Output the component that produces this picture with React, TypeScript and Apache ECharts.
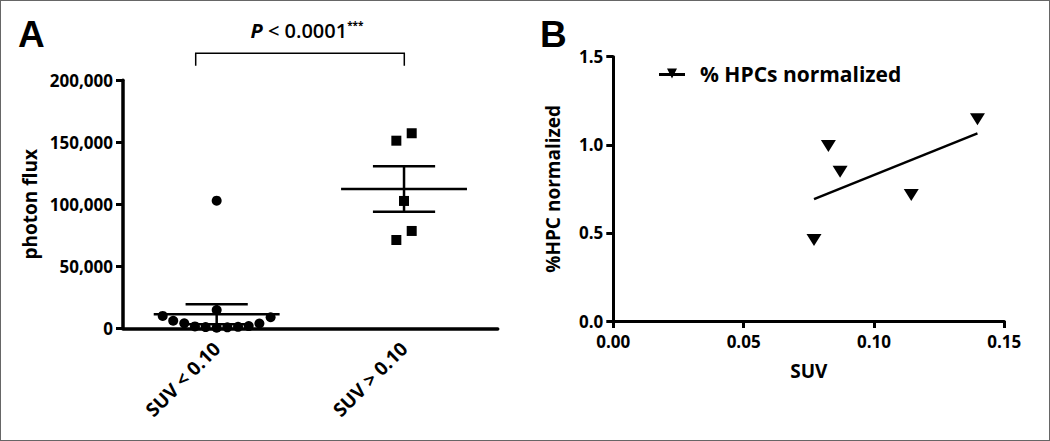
import React, { useEffect, useRef } from "react";
import * as echarts from "echarts";

// ---- Panel A data ----
const categoriesA = ["SUV < 0.10", "SUV > 0.10"];
// x positions on a 0..2 value scale (category centres at 0.5 and 1.5, spread like a beeswarm)
const lowSuvX = [0.212, 0.268, 0.327, 0.384, 0.441, 0.5, 0.557, 0.614, 0.671, 0.728, 0.788, 0.5, 0.5];
const lowSuvFlux = [10000, 6100, 4000, 1500, 1000, 500, 800, 1200, 1800, 3900, 8900, 14750, 102900];
const highSuvX = [1.459, 1.541, 1.5, 1.541, 1.459];
const highSuvFlux = [151300, 157300, 102700, 78500, 71200];
const groupCentres = [0.5, 1.5];
const groupMeans = [11300, 112300];
const groupSems = [8000, 18300];

// ---- Panel B data ----
const suvB = [0.077, 0.0825, 0.087, 0.1143, 0.1397];
const hpcB = [0.46, 0.993, 0.847, 0.715, 1.145];
const fitSuv = [0.077, 0.1397];
const fitHpc = [0.692, 1.065];

const FONT = "'Open Sans', 'Liberation Sans', Arial, sans-serif";

export default function App() {
  const ref = useRef<HTMLDivElement>(null);

  useEffect(() => {
    if (!ref.current) return;
    const chart = echarts.init(ref.current, undefined, { renderer: "svg" });

    const axisLabelStyle = { color: "#000", fontSize: 17, fontWeight: "bold" as const, fontFamily: FONT };
    const nameStyle = { fontSize: 19, fontWeight: "bold" as const, color: "#000", fontFamily: FONT };

    const option: any = {
      animation: false,
      backgroundColor: "#fff",
      textStyle: { fontFamily: FONT, color: "#000" },
      grid: [
        { left: 123, top: 80.3, width: 374.7, height: 248 },
        { left: 613.3, top: 56.7, width: 391, height: 264.3 },
      ],
      legend: {
        show: true,
        left: 659,
        top: 63,
        padding: 0,
        itemWidth: 26,
        itemHeight: 12,
        data: [
          {
            name: "% HPCs normalized",
            icon: "path://M0,4.5L26,4.5L26,7.5L0,7.5Z M8,0L18,0L13,10Z",
          },
        ],
        textStyle: { fontSize: 21, fontWeight: "bold", color: "#000", fontFamily: FONT, padding: [0, 0, 0, 10] },
      },
      xAxis: [
        {
          type: "category",
          gridIndex: 0,
          data: categoriesA,
          boundaryGap: true,
          axisLine: { lineStyle: { color: "#000", width: 3.5 } },
          axisTick: { alignWithLabel: true, length: 7, lineStyle: { color: "#000", width: 3 } },
          axisLabel: { ...axisLabelStyle, fontSize: 19, rotate: 45, margin: 17 },
          splitLine: { show: false },
        },
        {
          type: "value",
          gridIndex: 0,
          min: 0,
          max: 2,
          show: false,
        },
        {
          type: "value",
          gridIndex: 1,
          min: 0,
          max: 0.15,
          interval: 0.05,
          name: "SUV",
          nameLocation: "middle",
          nameGap: 40,
          nameTextStyle: nameStyle,
          axisLine: { lineStyle: { color: "#000", width: 3 } },
          axisTick: { length: 7, lineStyle: { color: "#000", width: 3 } },
          axisLabel: { ...axisLabelStyle, margin: 12, formatter: (v: number) => v.toFixed(2) },
          splitLine: { show: false },
        },
      ],
      yAxis: [
        {
          type: "value",
          gridIndex: 0,
          min: 0,
          max: 200000,
          interval: 50000,
          name: "photon flux",
          nameLocation: "middle",
          nameGap: 84,
          nameTextStyle: nameStyle,
          axisLine: { show: true, lineStyle: { color: "#000", width: 3.5 } },
          axisTick: { show: true, length: 7, lineStyle: { color: "#000", width: 3 } },
          axisLabel: { ...axisLabelStyle, margin: 10, formatter: (v: number) => v.toLocaleString("en-US") },
          splitLine: { show: false },
        },
        {
          type: "value",
          gridIndex: 1,
          min: 0,
          max: 1.5,
          interval: 0.5,
          name: "%HPC normalized",
          nameLocation: "middle",
          nameGap: 51,
          nameTextStyle: nameStyle,
          axisLine: { show: true, lineStyle: { color: "#000", width: 3 } },
          axisTick: { show: true, length: 7, lineStyle: { color: "#000", width: 3 } },
          axisLabel: { ...axisLabelStyle, margin: 10, formatter: (v: number) => v.toFixed(1) },
          splitLine: { show: false },
        },
      ],
      series: [
        {
          name: "mean ± SEM",
          type: "custom",
          xAxisIndex: 1,
          yAxisIndex: 0,
          z: 1,
          data: groupCentres.map((c, i) => [c, groupMeans[i], groupSems[i]]),
          renderItem: (params: any, api: any) => {
            const x = api.value(0);
            const m = api.value(1);
            const s = api.value(2);
            const c = api.coord([x, m]);
            const t = api.coord([x, m + s]);
            const b = api.coord([x, m - s]);
            const unit = api.size([1, 0])[0];
            const mh = 0.336 * unit;
            const ch = 0.166 * unit;
            const st = { stroke: "#000", lineWidth: 2.5 };
            return {
              type: "group",
              children: [
                { type: "line", shape: { x1: c[0] - mh, y1: c[1], x2: c[0] + mh, y2: c[1] }, style: st },
                { type: "line", shape: { x1: t[0], y1: t[1], x2: b[0], y2: b[1] }, style: st },
                { type: "line", shape: { x1: t[0] - ch, y1: t[1], x2: t[0] + ch, y2: t[1] }, style: st },
                { type: "line", shape: { x1: b[0] - ch, y1: b[1], x2: b[0] + ch, y2: b[1] }, style: st },
              ],
            };
          },
        },
        {
          name: "SUV < 0.10",
          type: "scatter",
          xAxisIndex: 1,
          yAxisIndex: 0,
          z: 3,
          symbol: "circle",
          symbolSize: 10,
          itemStyle: { color: "#000", opacity: 1 },
          data: lowSuvX.map((x, i) => [x, lowSuvFlux[i]]),
        },
        {
          name: "SUV > 0.10",
          type: "scatter",
          xAxisIndex: 1,
          yAxisIndex: 0,
          z: 3,
          symbol: "rect",
          symbolSize: 10,
          itemStyle: { color: "#000", opacity: 1 },
          data: highSuvX.map((x, i) => [x, highSuvFlux[i]]),
        },
        {
          name: "% HPCs normalized",
          type: "scatter",
          xAxisIndex: 2,
          yAxisIndex: 1,
          symbol: "triangle",
          symbolRotate: 180,
          symbolSize: [15, 12],
          itemStyle: { color: "#000", opacity: 1 },
          data: suvB.map((x, i) => [x, hpcB[i]]),
        },
        {
          name: "linear fit",
          type: "line",
          xAxisIndex: 2,
          yAxisIndex: 1,
          showSymbol: false,
          symbol: "none",
          lineStyle: { color: "#000", width: 2.5 },
          data: fitSuv.map((x, i) => [x, fitHpc[i]]),
        },
      ],
      graphic: [
        {
          type: "rect",
          shape: { x: 0, y: 0, width: 1050, height: 441 },
          style: { fill: "none", stroke: "#666", lineWidth: 2 },
          silent: true,
        },
        {
          type: "text",
          x: 18,
          y: 34,
          style: { text: "A", fontSize: 37, fontWeight: "bold", fontFamily: "'Liberation Sans', Arial, sans-serif", fill: "#000", verticalAlign: "middle" },
        },
        {
          type: "text",
          x: 540,
          y: 34,
          style: { text: "B", fontSize: 37, fontWeight: "bold", fontFamily: "'Liberation Sans', Arial, sans-serif", fill: "#000", verticalAlign: "middle" },
        },
        {
          type: "polyline",
          shape: { points: [[195.7, 65.7], [195.7, 53.3], [404.3, 53.3], [404.3, 65.7]] },
          style: { stroke: "#000", lineWidth: 1.5, fill: "none" },
        },
        {
          type: "text",
          x: 307,
          y: 30,
          style: {
            text: "{p|P} < 0.0001{s|***}",
            align: "center",
            verticalAlign: "middle",
            fontSize: 20,
            fontWeight: 600,
            fontFamily: FONT,
            fill: "#000",
            rich: {
              p: { fontStyle: "italic", fontWeight: "bold", fontSize: 20, fontFamily: FONT },
              s: { fontSize: 10, fontWeight: "bold", verticalAlign: "top", fontFamily: FONT },
            },
          },
        },
      ],
    };

    chart.setOption(option);
    return () => chart.dispose();
  }, []);

  return (
    <div
      ref={ref}
      style={{ position: "fixed", left: 0, top: 0, width: 1050, height: 441, background: "#fff" }}
    />
  );
}
